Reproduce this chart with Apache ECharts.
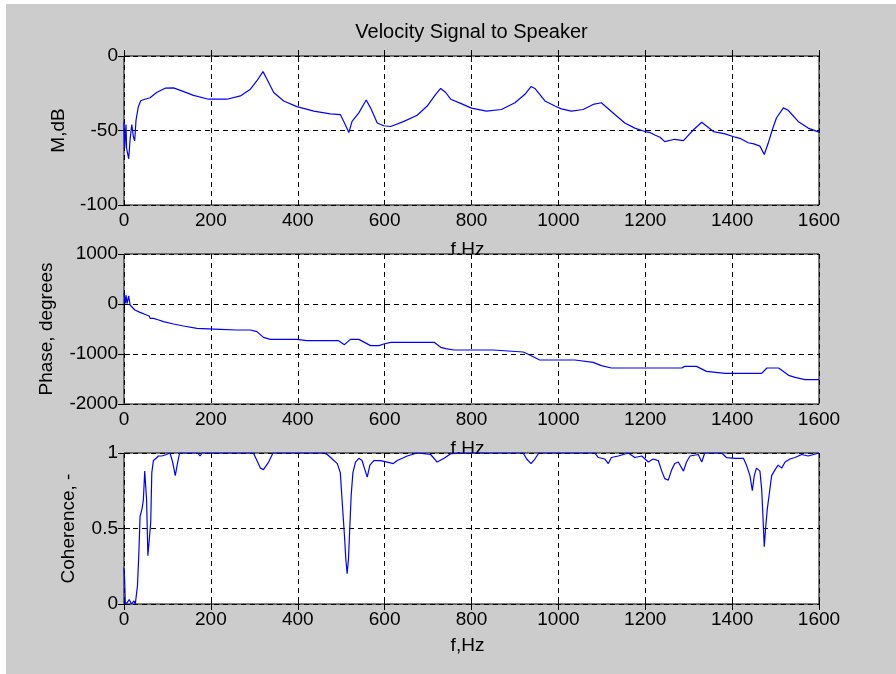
<!DOCTYPE html>
<html>
<head>
<meta charset="utf-8">
<script src="https://cdn.jsdelivr.net/npm/echarts@6/dist/echarts.min.js"></script>
<style>
  html, body { margin: 0; padding: 0; background: #ffffff; }
  #chart { width: 896px; height: 674px; }
</style>
</head>
<body>
<div id="chart"></div>
<script>
// Frequency response of the velocity signal to the speaker
const magFreq = [0, 1.5, 4.6, 6, 10.8, 14, 18, 21.5, 24.6, 27.7, 33, 38.5, 48, 60, 75, 94.6, 114, 133, 160, 194.6,
  237, 268, 291, 306, 320, 329, 344.6, 367.6, 398, 437, 475, 498, 507.6, 517.6, 525, 540.6, 557.6, 567.6, 583, 598,
  614, 644.5, 675, 698, 717.5, 729, 740.6, 752, 775, 800, 834.5, 869, 900, 923, 937, 946, 969, 992, 1007, 1030,
  1057, 1080, 1099, 1130, 1153, 1176, 1199, 1210, 1222, 1234, 1245, 1268, 1288, 1311, 1330, 1357, 1384, 1407, 1420,
  1437, 1450, 1464, 1474, 1483, 1492.5, 1502, 1518, 1529, 1552, 1575, 1600];
const magDb = [-44, -62, -46, -62, -69, -56, -46, -54, -57, -43, -34, -30, -29, -28, -24.5, -21.6, -21.4, -23.4, -26.4, -29,
  -29, -26.8, -22.3, -16.6, -10.5, -15.5, -24.5, -30.2, -34, -37, -38.9, -39.3, -45, -51.4, -43.9, -38.2, -29.5, -34.8, -45, -46.8,
  -47.3, -43.9, -39.8, -33.6, -25.7, -21.8, -24.5, -29, -31.8, -35, -37, -35.9, -31.4, -25.7, -20.5, -21.8, -30.2, -33.6, -35.5, -37,
  -35.9, -32.5, -31.4, -39.3, -45, -48.4, -50.7, -51.2, -53, -54.5, -57.5, -55.9, -56.8, -49.5, -44.5, -50.7, -52.3, -54.5, -55.5,
  -58.2, -59, -60.5, -66.1, -58.6, -49.5, -41.6, -34.8, -36.4, -43.9, -48.4, -51.1];

const phaseFreq = [0, 3, 4.6, 7, 10.8, 14, 25, 37, 52, 58, 60, 68, 80, 91, 114, 137, 168, 221, 260, 291,
  306, 321, 337, 398, 421, 494, 507.6, 521, 540.6, 567.6, 587, 598, 614, 714, 729, 740.6, 760, 850, 919, 934,
  957, 1038, 1080, 1099, 1122, 1284, 1291, 1318, 1341, 1384, 1468, 1480, 1507, 1530, 1545, 1568, 1600];
const phaseDeg = [213, 13, 180, 10, 160, -20, -120, -167, -220, -240, -287, -287, -320, -353, -400, -440, -487, -507, -520, -520,
  -553, -667, -707, -707, -733, -733, -813, -707, -707, -833, -833, -800, -767, -767, -867, -893, -920, -920, -960, -1020,
  -1120, -1120, -1167, -1233, -1280, -1280, -1247, -1247, -1347, -1387, -1387, -1280, -1280, -1427, -1467, -1513, -1513];

const cohFreq = [0, 1.5, 3, 7.7, 12, 17, 23, 26, 31, 34, 37, 41.5, 44.6, 47.7, 51, 52, 55, 58, 61.5, 64,
  67.7, 74, 79, 87, 98, 106, 112, 118, 123, 128, 170, 175, 180, 298, 306, 314, 321, 333, 343, 460,
  468, 479.5, 491, 498, 502, 507.6, 510.6, 513.7, 516.8, 520, 523, 527, 533, 540.6, 548, 554.5, 560, 566, 575, 590.6,
  606, 620, 629, 640.6, 652, 675, 706, 721, 737, 752, 803, 919, 927, 937, 946, 955, 1084, 1092, 1107, 1115,
  1122, 1138, 1161, 1176, 1192, 1207, 1218, 1230, 1238, 1245, 1253, 1261, 1268, 1276, 1288, 1295, 1303, 1322, 1330, 1337,
  1376, 1387, 1407, 1426, 1433, 1441, 1446.5, 1451, 1456, 1464, 1468, 1471, 1474, 1477, 1481, 1486, 1491, 1499, 1506, 1514,
  1522, 1533, 1545, 1560, 1575, 1600];
const cohVal = [0.24, 0.16, 0.0, 0.01, 0.03, 0.0, 0.02, 0.0, 0.12, 0.32, 0.58, 0.63, 0.69, 0.88, 0.89, 0.69, 0.32, 0.32, 0.54, 0.87,
  0.95, 0.965, 0.98, 0.98, 0.99, 1.0, 0.94, 0.85, 0.93, 1.0, 1.0, 0.98, 1.0, 1.0, 0.95, 0.9, 0.89, 0.94, 1.0, 1.0,
  0.99, 0.96, 0.93, 0.87, 0.69, 0.45, 0.30, 0.20, 0.30, 0.52, 0.72, 0.87, 0.94, 0.965, 0.95, 0.89, 0.84, 0.92, 0.95, 0.95,
  0.94, 0.93, 0.95, 0.965, 0.98, 1.0, 0.99, 0.94, 0.965, 0.995, 1.0, 1.0, 0.96, 0.93, 0.96, 1.0, 1.0, 0.97, 0.96, 0.93,
  0.97, 0.98, 1.0, 0.97, 0.98, 0.94, 0.96, 0.95, 0.88, 0.83, 0.82, 0.89, 0.93, 0.94, 0.88, 0.94, 0.98, 0.99, 0.94, 1.0,
  1.0, 0.97, 0.965, 0.965, 0.92, 0.85, 0.75, 0.85, 0.9, 0.88, 0.76, 0.58, 0.38, 0.5, 0.63, 0.74, 0.85, 0.89, 0.92, 0.9,
  0.94, 0.96, 0.97, 0.99, 0.98, 1.0];

// Axis ranges: [min, max, interval]
const freqRange = [0, 1600, 200];
const magRange = [-100, 0, 50];
const phaseRange = [-2000, 1000, 1000];
const cohRange = [0, 1, 0.5];

const titleText = 'Velocity Signal to Speaker';
const xName = 'f,Hz';
const yNames = ['M,dB', 'Phase, degrees', 'Coherence, -'];

const FONT = 'Liberation Sans, Arial, Helvetica, sans-serif';
const BLUE = '#0000ff';

const grids = [
  { left: 124, top: 56, width: 695, height: 149 },
  { left: 124, top: 254, width: 695, height: 150 },
  { left: 124, top: 453, width: 695, height: 151 }
];
const gridZ = [0, 2, 4];
const xNameGap = [35, 35, 32];
const yNameGap = [56, 68, 46];
const yRanges = [magRange, phaseRange, cohRange];

const plain = v => String(v);
const dashed = { show: true, lineStyle: { color: '#000', width: 1, type: [5, 4] } };
const tickStyle = { show: true, inside: true, length: 6, lineStyle: { color: '#000', width: 1 } };

const xAxes = [];
const yAxes = [];
for (let i = 0; i < 3; i++) {
  xAxes.push({
    type: 'value', gridIndex: i, position: 'bottom', z: gridZ[i] + 1,
    min: freqRange[0], max: freqRange[1], interval: freqRange[2],
    name: xName, nameLocation: 'middle', nameGap: xNameGap[i],
    nameTextStyle: { color: '#000', fontSize: 19, fontFamily: FONT, padding: [0, 8, 0, 0] },
    axisLine: { show: false },
    axisTick: tickStyle,
    axisLabel: { color: '#000', fontSize: 19, fontFamily: FONT, margin: 6, formatter: plain },
    splitLine: dashed
  });
  yAxes.push({
    type: 'value', gridIndex: i, position: 'left', z: gridZ[i] + 1,
    min: yRanges[i][0], max: yRanges[i][1], interval: yRanges[i][2],
    name: yNames[i], nameLocation: 'middle', nameGap: yNameGap[i],
    nameTextStyle: { color: '#000', fontSize: 19, fontFamily: FONT },
    axisLine: { show: false },
    axisTick: tickStyle,
    axisLabel: { color: '#000', fontSize: 19, fontFamily: FONT, margin: 6, formatter: plain },
    splitLine: dashed
  });
}
// Mirrored ticks on the top and right edges of each box
for (let i = 0; i < 3; i++) {
  xAxes.push({
    type: 'value', gridIndex: i, position: 'top', z: gridZ[i] + 1,
    min: freqRange[0], max: freqRange[1], interval: freqRange[2],
    axisLine: { show: false }, axisTick: tickStyle,
    axisLabel: { show: false }, splitLine: { show: false }
  });
  yAxes.push({
    type: 'value', gridIndex: i, position: 'right', z: gridZ[i] + 1,
    min: yRanges[i][0], max: yRanges[i][1], interval: yRanges[i][2],
    axisLine: { show: false }, axisTick: tickStyle,
    axisLabel: { show: false }, splitLine: { show: false }
  });
}

const pairs = (xs, ys) => xs.map((x, k) => [x, ys[k]]);
const seriesData = [pairs(magFreq, magDb), pairs(phaseFreq, phaseDeg), pairs(cohFreq, cohVal)];

const chart = echarts.init(document.getElementById('chart'), null, { renderer: 'canvas' });
chart.setOption({
  animation: false,
  backgroundColor: '#ffffff',
  title: {
    text: titleText, left: 471.5, top: 22, textAlign: 'center', padding: 0,
    textStyle: { color: '#000', fontSize: 20, fontWeight: 'normal', fontFamily: FONT }
  },
  graphic: [{
    type: 'rect', left: 6, top: 4, z: -100, silent: true,
    shape: { width: 890, height: 670 },
    style: { fill: '#cccccc' }
  }],
  grid: grids.map((g, i) => Object.assign({
    show: true, z: gridZ[i], backgroundColor: '#ffffff', borderColor: '#000', borderWidth: 1
  }, g)),
  xAxis: xAxes,
  yAxis: yAxes,
  series: seriesData.map((d, i) => ({
    type: 'line', xAxisIndex: i, yAxisIndex: i, z: gridZ[i] + 1.5,
    data: d, showSymbol: false, symbol: 'none',
    lineStyle: { color: BLUE, width: 1.2 }
  }))
});
</script>
</body>
</html>
